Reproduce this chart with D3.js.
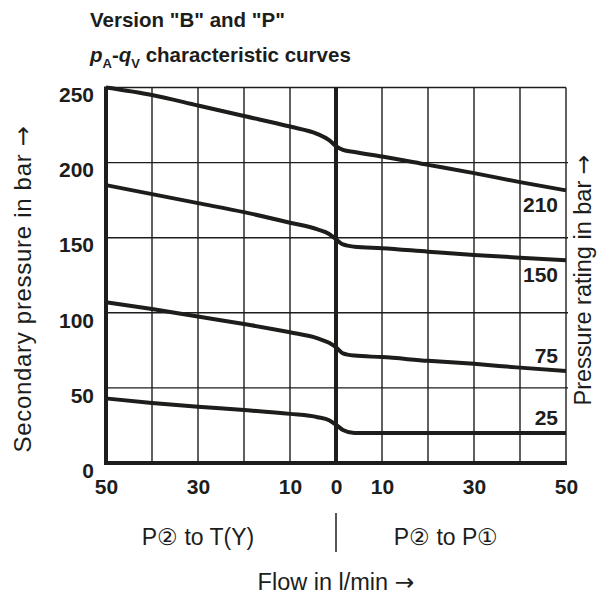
<!DOCTYPE html>
<html>
<head>
<meta charset="utf-8">
<script src="https://cdn.jsdelivr.net/npm/d3@7"></script>
<style>
    html, body { margin: 0; padding: 0; background: #fff; }
    svg { display: block; font-family: "Liberation Sans", Arial, Helvetica, sans-serif; }
</style>
</head>
<body>
<div id="chart"></div>
<script>
// Flow in l/min: negative side = P2 to T(Y), positive side = P2 to P1
const flow = [-50, -40, -30, -20, -10, -4, -1.5, 0, 1.5, 4, 10, 20, 30, 40, 50];

// Secondary pressure (bar), one array per pressure rating
const p210 = [250, 245, 238, 231, 224, 219, 215, 211, 208.5, 207, 204, 198.5, 193, 187, 181.5];
const p150 = [185, 179, 173, 167, 160, 155.5, 152.5, 149, 145.5, 144, 143, 140.7, 138.5, 136.7, 135];
const p75  = [107, 102.5, 97.5, 92.5, 87, 83, 80, 77, 73, 71.5, 70.5, 68, 66, 63.5, 61.3];
const p25  = [43, 40, 37.5, 35.3, 32.7, 30.5, 28.5, 25.5, 22, 20, 20, 20, 20, 20, 20];

const ratings = ['210', '150', '75', '25'];
const seriesValues = [p210, p150, p75, p25];

const xTickValues = [-50, -30, -10, 0, 10, 30, 50];
const xGridValues = [-40, -30, -20, -10, 10, 20, 30, 40];
const yTickValues = [0, 50, 100, 150, 200, 250];
const yGridValues = [50, 100, 150, 200];

const ink = '#1d1d1b';
const W = 610, H = 598;

const svg = d3.select('#chart')
    .append('svg')
    .attr('width', W)
    .attr('height', H);

// Scales
const x = d3.scaleLinear().domain([-50, 50]).range([106, 566]);
const y = d3.scaleLinear().domain([0, 250]).range([463, 87.5]);

// plain text with a long arrow at the end (arrow taken from DejaVu)
function withArrow(sel, label) {
    sel.append('tspan').text(label + ' ');
    sel.append('tspan').attr('font-family', 'DejaVu Sans').text('\u2192');
    return sel;
}

// Titles
svg.append('text')
    .attr('x', 90).attr('y', 27)
    .attr('font-size', 20.5).attr('font-weight', 'bold')
    .attr('fill', ink)
    .text('Version "B" and "P"');

const t2 = svg.append('text')
    .attr('x', 90).attr('y', 62)
    .attr('font-size', 20.5).attr('font-weight', 'bold')
    .attr('fill', ink);
t2.append('tspan').attr('font-style', 'italic').text('p');
t2.append('tspan').attr('font-size', 13).attr('dy', 6).text('A');
t2.append('tspan').attr('dy', -6).text('-');
t2.append('tspan').attr('font-style', 'italic').text('q');
t2.append('tspan').attr('font-size', 13).attr('dy', 6).text('V');
t2.append('tspan').attr('dy', -6).text(' characteristic curves');

// Grid
const grid = svg.append('g').attr('stroke', ink).attr('stroke-width', 1.4);

grid.selectAll('.vgrid')
    .data(xGridValues)
    .enter()
    .append('line')
    .attr('x1', d => x(d)).attr('x2', d => x(d))
    .attr('y1', y(250)).attr('y2', y(0));

grid.selectAll('.hgrid')
    .data(yGridValues)
    .enter()
    .append('line')
    .attr('x1', x(-50)).attr('x2', x(50) + 2)
    .attr('y1', d => y(d)).attr('y2', d => y(d));

// thin top and right border
grid.append('line')
    .attr('x1', x(-50)).attr('x2', x(50))
    .attr('y1', y(250)).attr('y2', y(250));
grid.append('line')
    .attr('x1', x(50)).attr('x2', x(50))
    .attr('y1', y(250)).attr('y2', y(0));

// thick left axis, bottom axis and zero line
const heavy = svg.append('g').attr('stroke', ink).attr('stroke-width', 4);
heavy.append('line')
    .attr('x1', x(-50)).attr('x2', x(-50))
    .attr('y1', y(250) - 1).attr('y2', y(0) + 2);
heavy.append('line')
    .attr('x1', x(-50) - 2).attr('x2', x(50) + 1)
    .attr('y1', y(0)).attr('y2', y(0));
heavy.append('line')
    .attr('x1', x(0)).attr('x2', x(0))
    .attr('y1', y(250)).attr('y2', y(0));

// Curves
const line = d3.line()
    .x((d, i) => x(flow[i]))
    .y(d => y(d))
    .curve(d3.curveMonotoneX);

svg.append('g')
    .selectAll('path')
    .data(seriesValues)
    .enter()
    .append('path')
    .attr('d', line)
    .attr('fill', 'none')
    .attr('stroke', ink)
    .attr('stroke-width', 4)
    .attr('stroke-linecap', 'butt');

// Rating labels at the right end of each curve (upper two below, lower two above)
svg.append('g')
    .selectAll('text')
    .data(ratings)
    .enter()
    .append('text')
    .attr('x', x(50) - 8)
    .attr('y', (d, i) => {
        const v = seriesValues[i][seriesValues[i].length - 1];
        return +d >= 150 ? y(v) + 22 : y(v) - 8;
    })
    .attr('text-anchor', 'end')
    .attr('font-size', 21)
    .attr('font-weight', 'bold')
    .attr('fill', ink)
    .text(d => d);

// Axes (labels only)
const xAxis = svg.append('g')
    .attr('transform', `translate(0,${y(0)})`)
    .call(d3.axisBottom(x).tickValues(xTickValues).tickSize(0).tickPadding(16).tickFormat(d => Math.abs(d)));
xAxis.select('.domain').remove();
xAxis.selectAll('text')
    .attr('font-size', 21).attr('font-weight', 'bold')
    .attr('font-family', 'Liberation Sans, Arial, sans-serif')
    .attr('fill', ink);

const yAxis = svg.append('g')
    .attr('transform', `translate(${x(-50)},0)`)
    .call(d3.axisLeft(y).tickValues(yTickValues).tickSize(0).tickPadding(12));
yAxis.select('.domain').remove();
yAxis.selectAll('text')
    .attr('dy', '0.68em')
    .attr('font-size', 21).attr('font-weight', 'bold')
    .attr('font-family', 'Liberation Sans, Arial, sans-serif')
    .attr('fill', ink);

// Axis titles
svg.append('text')
    .attr('transform', 'translate(31,289) rotate(-90)')
    .attr('text-anchor', 'middle')
    .attr('font-size', 24)
    .attr('letter-spacing', 0.7)
    .attr('fill', ink)
    .call(withArrow, 'Secondary pressure in bar');

svg.append('text')
    .attr('transform', 'translate(591,280) rotate(-90)')
    .attr('text-anchor', 'middle')
    .attr('font-size', 23.5)
    .attr('fill', ink)
    .call(withArrow, 'Pressure rating in bar');

// Flow direction captions
svg.append('text')
    .attr('x', 198).attr('y', 545)
    .attr('text-anchor', 'middle')
    .attr('font-size', 23)
    .attr('fill', ink)
    .text('P\u2461 to T(Y)');

svg.append('line')
    .attr('x1', x(0)).attr('x2', x(0))
    .attr('y1', 513).attr('y2', 552)
    .attr('stroke', ink)
    .attr('stroke-width', 1.5);

svg.append('text')
    .attr('x', 446).attr('y', 545)
    .attr('text-anchor', 'middle')
    .attr('font-size', 23)
    .attr('fill', ink)
    .text('P\u2461 to P\u2460');

svg.append('text')
    .attr('x', 336).attr('y', 590)
    .attr('text-anchor', 'middle')
    .attr('font-size', 23.5)
    .attr('fill', ink)
    .call(withArrow, 'Flow in l/min');
</script>
</body>
</html>
